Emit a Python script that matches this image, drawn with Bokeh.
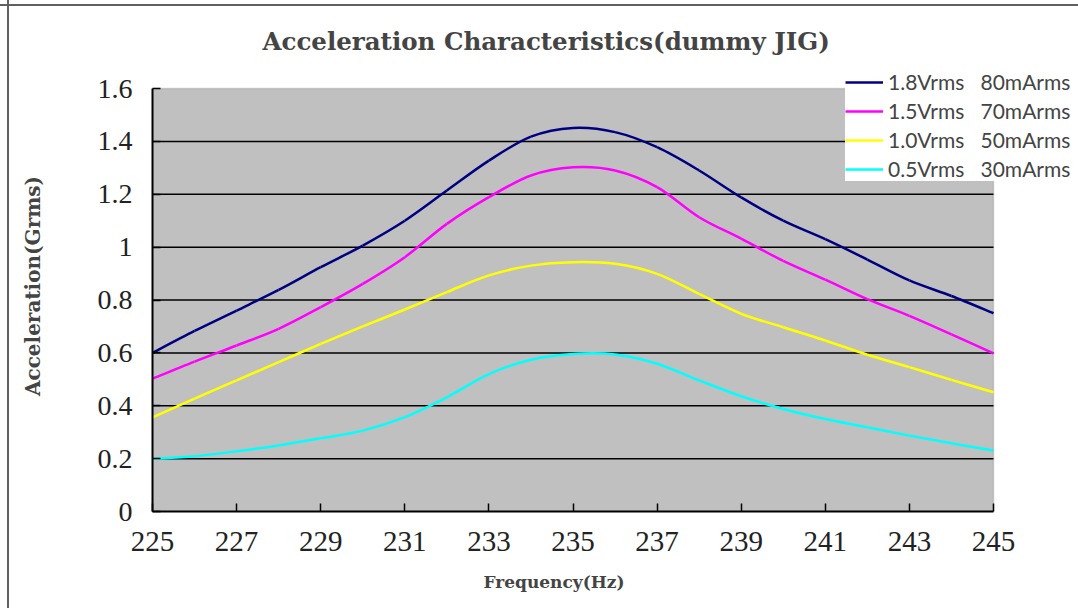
from bokeh.plotting import figure
from bokeh.models import FixedTicker, Legend, LegendItem, BoxAnnotation, Title
from bokeh.embed import file_html
from bokeh.resources import INLINE

freq = list(range(225, 246))
s18 = [0.600, 0.683, 0.760, 0.838, 0.924, 1.006, 1.100, 1.214, 1.327, 1.418, 1.451,
       1.435, 1.378, 1.290, 1.188, 1.100, 1.030, 0.953, 0.874, 0.815, 0.750]
s15 = [0.502, 0.567, 0.628, 0.691, 0.773, 0.861, 0.962, 1.088, 1.189, 1.271, 1.302,
       1.290, 1.227, 1.113, 1.032, 0.948, 0.877, 0.803, 0.740, 0.670, 0.598]
s10 = [0.356, 0.427, 0.496, 0.565, 0.634, 0.700, 0.764, 0.830, 0.893, 0.930, 0.943,
       0.937, 0.899, 0.823, 0.748, 0.697, 0.647, 0.593, 0.546, 0.498, 0.451]
s05 = [0.199, 0.209, 0.228, 0.250, 0.277, 0.306, 0.357, 0.432, 0.520, 0.574, 0.596,
       0.594, 0.559, 0.496, 0.436, 0.388, 0.350, 0.319, 0.287, 0.258, 0.231]

series_labels = ["1.8Vrms   80mArms", "1.5Vrms   70mArms", "1.0Vrms   50mArms", "0.5Vrms   30mArms"]
series_colors = ["#000080", "#FF00FF", "#FFFF00", "#00FFFF"]

x_ticks = [225, 227, 229, 231, 233, 235, 237, 239, 241, 243, 245]
y_ticks = [0, 0.2, 0.4, 0.6, 0.8, 1.0, 1.2, 1.4, 1.6]
y_tick_labels = ["0", "0.2", "0.4", "0.6", "0.8", "1", "1.2", "1.4", "1.6"]
grid_values = [0.2, 0.4, 0.6, 0.8, 1.0, 1.2, 1.4]

title_text = "Acceleration Characteristics(dummy JIG)"
x_label = "Frequency(Hz)"
y_label = "Acceleration(Grms)"

X0, X1, Y0, Y1 = x_ticks[0], x_ticks[-1], y_ticks[0], y_ticks[-1]
# frame is wider/taller than the grey data area so the legend can overhang it
x_max = X0 + (X1 - X0) * 926 / 841
y_max = Y1 * 451 / 423

p = figure(width=1078, height=608, x_range=(X0, x_max), y_range=(Y0, y_max),
           output_backend="svg", toolbar_location=None,
           min_border_left=152, min_border_right=0, min_border_top=60, min_border_bottom=97)
p.border_fill_alpha = 0
p.background_fill_alpha = 0
p.outline_line_color = None
p.styles = {"background": "linear-gradient(to right, transparent 7px, #606060 7px, #606060 9px, transparent 9px), "
                          "linear-gradient(to bottom, transparent 4px, #606060 4px, #606060 6px, transparent 6px), white"}

p.add_layout(BoxAnnotation(left=X0, right=X1, bottom=Y0, top=Y1, fill_color="#C0C0C0", fill_alpha=1,
                           line_color="#808080", line_width=1.5, level="image"))

p.segment(x0=[X0] * len(grid_values), x1=[X1] * len(grid_values), y0=grid_values, y1=grid_values,
          line_color="black", line_width=1.5, level="underlay")

p.title.text = title_text
p.title.text_font = "DejaVu Serif"
p.title.text_font_style = "bold"
p.title.text_font_size = "24.5px"
p.title.align = "left"
p.title.offset = 110
p.title.standoff = 10

p.xaxis.ticker = FixedTicker(ticks=x_ticks)
p.yaxis.ticker = FixedTicker(ticks=y_ticks)
p.xaxis.bounds = (X0, X1)
p.yaxis.bounds = (Y0, Y1)
p.yaxis.major_label_overrides = {t: l for t, l in zip(y_ticks, y_tick_labels)}
for ax in (p.xaxis, p.yaxis):
    ax.axis_line_color = "black"
    ax.axis_line_width = 2
    ax.major_tick_line_color = "black"
    ax.major_tick_line_width = 1.5
    ax.major_tick_in = 8
    ax.major_tick_out = 0
    ax.minor_tick_line_color = None
    ax.major_label_text_font = "Liberation Serif"
    ax.major_label_text_font_size = "28px"
    ax.major_label_text_color = "#222222"
p.xaxis.major_label_text_font_size = "29px"
p.xaxis.major_label_standoff = 20
p.yaxis.major_label_standoff = 20
p.yaxis.axis_label = y_label
p.yaxis.axis_label_text_font = "DejaVu Serif"
p.yaxis.axis_label_text_font_style = "bold"
p.yaxis.axis_label_text_font_size = "20px"
p.yaxis.axis_label_standoff = 50
p.grid.visible = False

xt = Title(text=x_label, text_font="DejaVu Serif", text_font_style="bold",
           text_font_size="17px", align="left", offset=331, standoff=33)
p.add_layout(xt, "below")


def smooth(xs, ys):
    # Catmull-Rom style cubic Bezier through every data point
    n = len(xs)
    out = {"x0": [], "y0": [], "x1": [], "y1": [], "cx0": [], "cy0": [], "cx1": [], "cy1": []}
    for i in range(n - 1):
        xa, ya = xs[max(i - 1, 0)], ys[max(i - 1, 0)]
        xb, yb = xs[i], ys[i]
        xc, yc = xs[i + 1], ys[i + 1]
        xd, yd = xs[min(i + 2, n - 1)], ys[min(i + 2, n - 1)]
        out["x0"].append(xb); out["y0"].append(yb)
        out["x1"].append(xc); out["y1"].append(yc)
        out["cx0"].append(xb + (xc - xa) / 6); out["cy0"].append(yb + (yc - ya) / 6)
        out["cx1"].append(xc - (xd - xb) / 6); out["cy1"].append(yc - (yd - yb) / 6)
    return out


items = []
for vals, lab, col in zip([s18, s15, s10, s05], series_labels, series_colors):
    r = p.bezier(source=smooth(freq, vals), x0="x0", y0="y0", x1="x1", y1="y1",
                 cx0="cx0", cy0="cy0", cx1="cx1", cy1="cy1", line_color=col, line_width=2.5)
    items.append(LegendItem(label=lab, renderers=[r]))

leg = Legend(items=items, location=(693, 330), background_fill_color="white",
             background_fill_alpha=1.0, border_line_color=None,
             label_text_font="Lato", label_text_font_size="21px",
             glyph_width=38, glyph_height=20, label_height=20, label_standoff=5,
             spacing=4, padding=13, margin=0)
p.add_layout(leg, "center")

open("out.html", "w").write(file_html(p, INLINE))
